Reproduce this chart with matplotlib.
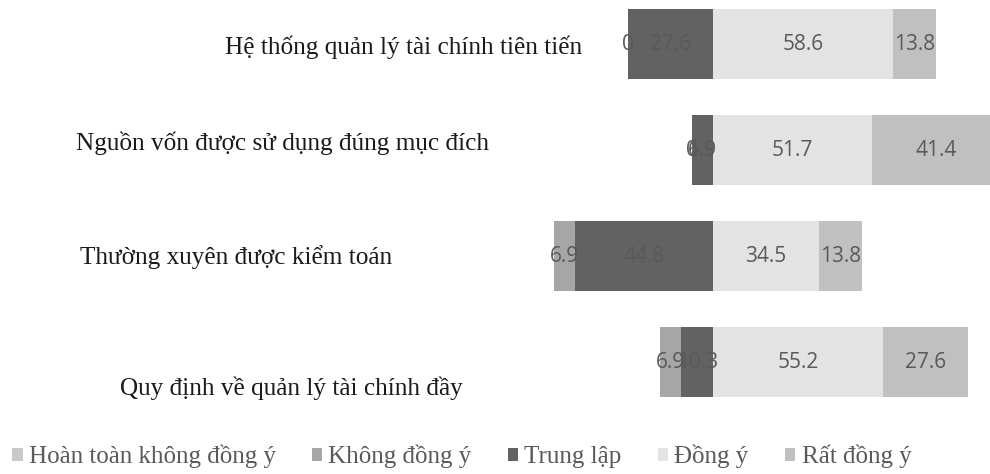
import numpy as np
import matplotlib.pyplot as plt

# Survey answers (%) per statement, diverging around "Trung lập"
categories = [
    "Hệ thống quản lý tài chính tiên tiến",
    "Nguồn vốn được sử dụng đúng mục đích",
    "Thường xuyên được kiểm toán",
    "Quy định về quản lý tài chính đầy",
]
hoan_toan_khong = [0, 0, 0, 0]
khong_dong_y = [0, 0, 6.9, 6.9]
trung_lap = [27.6, 6.9, 44.8, 10.3]
dong_y = [58.6, 51.7, 34.5, 55.2]
rat_dong_y = [13.8, 41.4, 13.8, 27.6]
# labels Excel printed on the zero-width "Không đồng ý" segments
khong_labels = ["0", "0", "6.9", "6.9"]

series_names = ["Hoàn toàn không đồng ý", "Không đồng ý", "Trung lập",
                "Đồng ý", "Rất đồng ý"]
colors = ["#c9c9c9", "#a6a6a6", "#626262", "#e3e3e3", "#c0c0c0"]

# where each category caption sits (figure px, left edge / vertical centre)
caption_pos = [(225, 47), (76, 143), (80, 257), (120, 388)]

W, H = 990, 474
fig = plt.figure(figsize=(W / 100, H / 100), dpi=100)
ax = fig.add_axes([0, 0, 1, 1])

y = np.arange(len(categories))
tl = np.array(trung_lap)
kd = np.array(khong_dong_y)
ht = np.array(hoan_toan_khong)
dy = np.array(dong_y)
rd = np.array(rat_dong_y)

bh = 0.66
bars = []
bars.append(ax.barh(y, -ht, left=-(tl + kd), height=bh, color=colors[0]))
bars.append(ax.barh(y, -kd, left=-tl, height=bh, color=colors[1]))
bars.append(ax.barh(y, -tl, height=bh, color=colors[2]))
bars.append(ax.barh(y, dy, height=bh, color=colors[3]))
bars.append(ax.barh(y, rd, left=dy, height=bh, color=colors[4]))

lab_font = dict(family="Open Sans", fontsize=15, color="#595959",
                ha="center", va="center")
for i in range(len(categories)):
    ax.text(-(tl[i] + kd[i] / 2), y[i], khong_labels[i], **lab_font)
    ax.text(-tl[i] / 2, y[i], f"{trung_lap[i]:g}", **lab_font)
    ax.text(dy[i] / 2, y[i], f"{dong_y[i]:g}", **lab_font)
    ax.text(dy[i] + rd[i] / 2, y[i], f"{rat_dong_y[i]:g}", **lab_font)

# px -> data mapping: zero line at x=713px, 3.08 px per percent
ax.set_xlim(-713 / 3.08, (W - 713) / 3.08)
ax.set_ylim((H - 44) / 106, -44 / 106)
ax.axis("off")

for name, (px, py) in zip(categories, caption_pos):
    fig.text(px / W, 1 - py / H, name, family="Liberation Serif",
             fontsize=18.2, color="#1a1a1a", ha="left", va="center")

leg = fig.legend([b[0] for b in bars], series_names, loc="lower left",
                 bbox_to_anchor=(12 / W, 6 / H), ncol=5, frameon=False,
                 prop={"family": "Liberation Serif", "size": 18},
                 handlelength=0.42, handleheight=0.42, handletextpad=0.25,
                 columnspacing=1.44, borderpad=0, borderaxespad=0)
for t in leg.get_texts():
    t.set_color("#595959")

fig.savefig("out.png", dpi=100)
